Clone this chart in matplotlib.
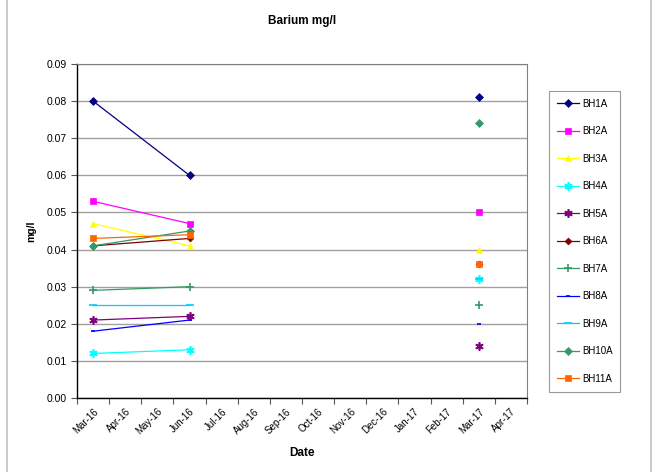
import matplotlib.pyplot as plt
from matplotlib.lines import Line2D
import numpy as np

plt.rcParams['font.family'] = ['Liberation Sans', 'DejaVu Sans']

months = ['Mar-16', 'Apr-16', 'May-16', 'Jun-16', 'Jul-16', 'Aug-16', 'Sep-16',
          'Oct-16', 'Nov-16', 'Dec-16', 'Jan-17', 'Feb-17', 'Mar-17', 'Apr-17']
sample_dates = ['Mar-16', 'Jun-16', 'Sep-16', 'Dec-16', 'Mar-17']
nan = np.nan

bh1a = [0.080, 0.060, nan, nan, 0.081]
bh2a = [0.053, 0.047, nan, nan, 0.050]
bh3a = [0.047, 0.041, nan, nan, 0.040]
bh4a = [0.012, 0.013, nan, nan, 0.032]
bh5a = [0.021, 0.022, nan, nan, 0.014]
bh6a = [0.041, 0.043, nan, nan, 0.036]
bh7a = [0.029, 0.030, nan, nan, 0.025]
bh8a = [0.018, 0.021, nan, nan, 0.020]
bh9a = [0.025, 0.025, nan, nan, 0.032]
bh10a = [0.041, 0.045, nan, nan, 0.074]
bh11a = [0.043, 0.044, nan, nan, 0.036]

series = [
    ('BH1A', bh1a, '#000080', 'D', 4),
    ('BH2A', bh2a, '#FF00FF', 's', 5),
    ('BH3A', bh3a, '#FFFF00', '^', 5),
    ('BH4A', bh4a, '#00FFFF', (6, 2, 0), 6),
    ('BH5A', bh5a, '#800080', (6, 2, 0), 6),
    ('BH6A', bh6a, '#800000', 'D', 3.5),
    ('BH7A', bh7a, '#339966', '+', 6),
    ('BH8A', bh8a, '#0000FF', '_', 3),
    ('BH9A', bh9a, '#00CCFF', '_', 6),
    ('BH10A', bh10a, '#339966', 'D', 4),
    ('BH11A', bh11a, '#FF6600', 's', 5),
]

fig = plt.figure(figsize=(6.61, 4.72), dpi=100)
ax = fig.add_axes([77 / 661, 1 - 398 / 472, 450 / 661, 334 / 472])

x = [months.index(d) for d in sample_dates]
for name, vals, col, mk, ms in series:
    ax.plot(x, vals, color=col, marker=mk, markersize=ms, linewidth=0.9,
            markeredgewidth=1.2 if mk in ('+', '_') or isinstance(mk, tuple) else 0.5,
            label=name)

ax.set_xlim(-0.5, len(months) - 0.5)
ax.set_ylim(0, 0.09)
ax.set_yticks(np.arange(0, 0.0901, 0.01))
ax.set_yticklabels(['%.2f' % v for v in np.arange(0, 0.0901, 0.01)], fontsize=7.5)
ax.set_xticks(range(len(months)))
ax.set_xticklabels(months, rotation=45, ha='right', rotation_mode='anchor', fontsize=7)
ax.set_xticks(np.arange(-0.5, len(months), 1), minor=True)
ax.tick_params(axis='x', which='major', length=0, pad=6)
ax.tick_params(axis='x', which='minor', length=4, width=0.8, color='#555555')
ax.tick_params(axis='y', length=4, width=0.8, color='#555555')
ax.yaxis.grid(True, color='#a0a0a0', linewidth=1)
ax.set_axisbelow(True)
for s in ('top', 'right'):
    ax.spines[s].set_color('#808080')
for s in ('left', 'bottom'):
    ax.spines[s].set_color('black')
    ax.spines[s].set_linewidth(1)

ax.set_title('Barium mg/l', fontsize=8.5, fontweight='bold', pad=29)
ax.set_xlabel('Date', fontsize=8.5, fontweight='bold', labelpad=8)
ax.set_ylabel('mg/l', fontsize=7.5, fontweight='bold', labelpad=7)

leg = ax.legend(loc='upper left', bbox_to_anchor=(549 / 661, 1 - 91 / 472),
                bbox_transform=fig.transFigure, fontsize=7, frameon=True,
                fancybox=False, labelspacing=1.8, handlelength=2.3,
                handletextpad=0.3, borderpad=0.8, borderaxespad=0)
leg.get_frame().set_edgecolor('#808080')
leg.get_frame().set_linewidth(0.8)

fig.add_artist(Line2D([7 / 661, 7 / 661], [0, 1], color='#c0c0c0', linewidth=1.2))
fig.add_artist(Line2D([651 / 661, 651 / 661], [0, 1], color='#c0c0c0', linewidth=1.2))

fig.savefig('out.png', dpi=100)
